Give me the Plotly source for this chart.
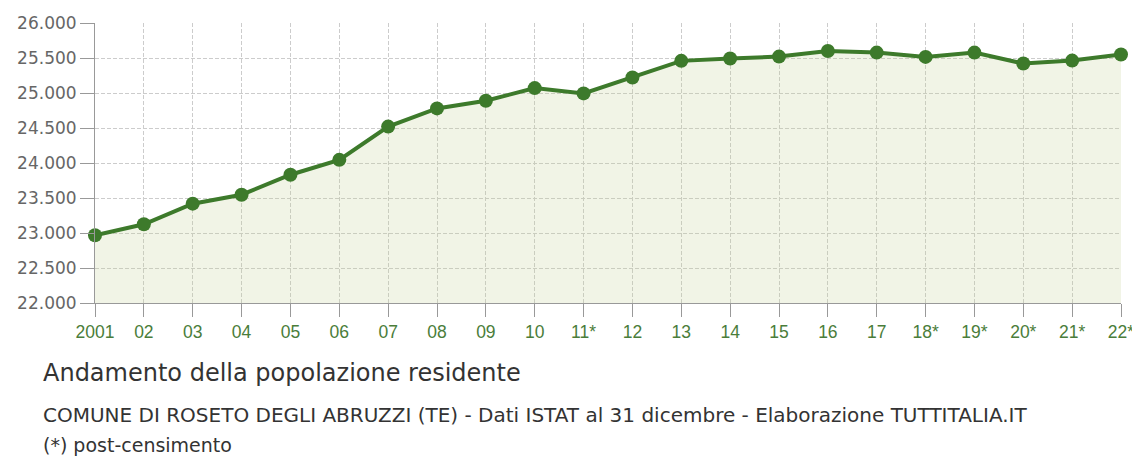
import plotly.graph_objects as go

YEARS = ["2001", "02", "03", "04", "05", "06", "07", "08", "09", "10", "11*",
         "12", "13", "14", "15", "16", "17", "18*", "19*", "20*", "21*", "22*"]
POPULATION = [22968, 23125, 23419, 23547, 23832, 24045, 24520, 24780, 24890, 25070,
              24994, 25221, 25459, 25492, 25520, 25601, 25577, 25516, 25577, 25421,
              25463, 25549]
Y_TICKS = [22000, 22500, 23000, 23500, 24000, 24500, 25000, 25500, 26000]
Y_TICK_LABELS = ["22.000", "22.500", "23.000", "23.500", "24.000", "24.500",
                 "25.000", "25.500", "26.000"]

TITLE = "Andamento della popolazione residente"
SUBTITLE = "COMUNE DI ROSETO DEGLI ABRUZZI (TE) - Dati ISTAT al 31 dicembre - Elaborazione TUTTITALIA.IT"
NOTE = "(*) post-censimento"

GREEN = "#3d7a2b"
FONT = "Liberation Sans, Arial, sans-serif"
WIDE_FONT = "DejaVu Sans, sans-serif"

# the page body has an 8px margin, so the figure is drawn 8px in from the corner
OFFSET = 8
W, H = 1140 - OFFSET, 462 - OFFSET
PLOT_L, PLOT_R, PLOT_T, PLOT_B = 95, 1121, 23, 303  # page pixels


def paper_x(px):
    return (px - PLOT_L) / (PLOT_R - PLOT_L)


def paper_y(py):
    return (PLOT_B - py) / (PLOT_B - PLOT_T)


fig = go.Figure()
fig.add_trace(go.Scatter(
    x=YEARS, y=POPULATION,
    mode="lines+markers",
    line={"color": GREEN, "width": 4},
    marker={"color": GREEN, "size": 14},
    fill="tozeroy",
    fillcolor="rgba(196,208,150,0.24)",
    cliponaxis=False,
    hoverinfo="x+y",
))

annos = [
    (TITLE, 373, 24, "#333333"),
    (SUBTITLE, 415, 20, "#333333"),
    (NOTE, 445, 19, "#333333"),
]
for text, ypx, size, color in annos:
    fig.add_annotation(
        text=text, x=paper_x(41), y=paper_y(ypx),
        xref="paper", yref="paper", xanchor="left", yanchor="middle",
        showarrow=False, font={"family": WIDE_FONT, "size": size, "color": color},
    )

fig.update_layout(
    width=W, height=H,
    margin={"l": PLOT_L - OFFSET, "r": 1140 - PLOT_R, "t": PLOT_T - OFFSET, "b": 462 - PLOT_B},
    paper_bgcolor="#ffffff",
    plot_bgcolor="#ffffff",
    showlegend=False,
    font={"family": FONT},
)
fig.update_xaxes(
    type="category", range=[0, len(YEARS) - 1], automargin=False,
    showgrid=True, gridcolor="#cccccc", griddash="4px,2px", gridwidth=1,
    ticks="outside", ticklen=13, tickcolor="#999999",
    showline=True, linecolor="#999999", linewidth=1,
    tickfont={"family": FONT, "size": 17.5, "color": "#4a7d3a"},
    zeroline=False,
)
fig.update_yaxes(
    range=[22000, 26000], tickvals=Y_TICKS, ticktext=Y_TICK_LABELS, automargin=False,
    showgrid=True, gridcolor="#cccccc", griddash="4px,2px", gridwidth=1,
    ticks="outside", ticklen=14, tickcolor="#999999",
    showline=True, linecolor="#999999", linewidth=1,
    tickfont={"family": WIDE_FONT, "size": 17, "color": "#666666"},
    zeroline=False,
)

fig.write_html("out.html")
